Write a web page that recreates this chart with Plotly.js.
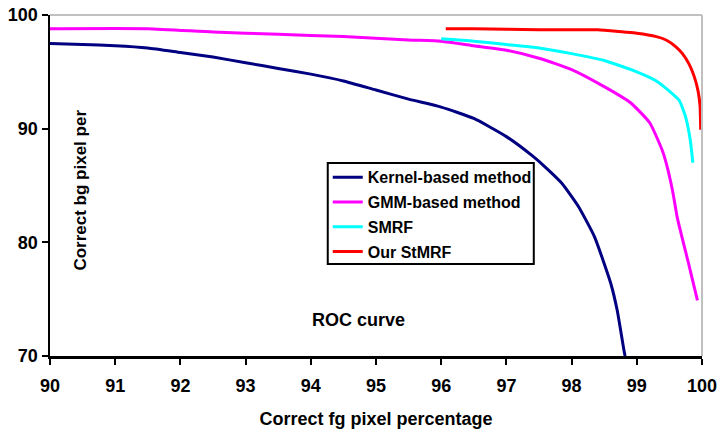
<!DOCTYPE html>
<html>
<head>
<meta charset="utf-8">
<script src="https://cdn.plot.ly/plotly-3.0.1.min.js"></script>
<style>html,body{margin:0;padding:0;background:#fff;}#chart{width:718px;height:435px;}</style>
</head>
<body>
<div id="chart"></div>
<script>
const seriesNames = ["Kernel-based method", "GMM-based method", "SMRF", "Our StMRF"];
const seriesColors = ["#000080", "#ff00ff", "#00ffff", "#ff0000"];

const kernelX = [90.0, 90.5, 91.0, 91.5, 92.0, 92.5, 93.0, 93.5, 94.0, 94.5, 95.0, 95.5, 96.0, 96.5, 97.0, 97.4, 97.6, 97.85, 98.1, 98.35, 98.6, 98.7, 98.8, 98.82];
const kernelY = [97.5, 97.4, 97.3, 97.1, 96.7, 96.3, 95.8, 95.3, 94.8, 94.2, 93.4, 92.6, 91.9, 90.9, 89.3, 87.6, 86.6, 85.2, 83.2, 80.5, 76.4, 74.0, 70.6, 70.0];

const gmmX = [90.0, 91.5, 92.5, 93.5, 94.5, 95.5, 96.0, 96.5, 97.0, 97.5, 98.0, 98.5, 98.9, 99.2, 99.39, 99.45, 99.55, 99.62, 99.8, 99.93];
const gmmY = [98.8, 98.8, 98.5, 98.3, 98.1, 97.8, 97.7, 97.3, 96.9, 96.2, 95.2, 93.7, 92.3, 90.5, 88.1, 87.0, 84.5, 82.2, 78.0, 74.9];

const smrfX = [96.0, 96.5, 97.0, 97.5, 98.0, 98.5, 99.0, 99.3, 99.5, 99.65, 99.75, 99.82, 99.86];
const smrfY = [97.9, 97.7, 97.4, 97.1, 96.6, 96.0, 95.0, 94.2, 93.3, 92.5, 91.0, 89.0, 87.0];

const stmrfX = [96.07, 96.5, 97.0, 97.5, 98.0, 98.4, 98.8, 99.0, 99.3, 99.45, 99.6, 99.7, 99.8, 99.88, 99.94, 99.97, 99.98];
const stmrfY = [98.8, 98.8, 98.75, 98.7, 98.7, 98.7, 98.5, 98.4, 98.1, 97.8, 97.2, 96.6, 95.7, 94.6, 93.3, 92.0, 89.9];

const xTicks = [90, 91, 92, 93, 94, 95, 96, 97, 98, 99, 100];
const yTicks = [70, 80, 90, 100];

const xs = [kernelX, gmmX, smrfX, stmrfX];
const ys = [kernelY, gmmY, smrfY, stmrfY];

const FONT = "Liberation Sans, Arial, sans-serif";

const traces = seriesNames.map((n, i) => ({
  x: xs[i], y: ys[i], name: n, type: "scatter", mode: "lines",
  legendgroup: "g" + i,
  line: {color: seriesColors[i], width: 3, shape: "spline", smoothing: 0.5}
}));

// plot area: 652 x 341 px starting at (50, 15)
const layout = {
  width: 718, height: 435,
  margin: {l: 50, r: 16, t: 15, b: 79},
  paper_bgcolor: "#fff", plot_bgcolor: "#fff",
  font: {family: FONT, color: "#000"},
  showlegend: true,
  legend: {
    x: 0.426, y: 0.574, xanchor: "left", yanchor: "top",
    bgcolor: "rgba(0,0,0,0)", borderwidth: 0,
    font: {family: FONT, size: 16, color: "#000", weight: "bold"},
    tracegroupgap: 1, itemwidth: 30
  },
  xaxis: {
    range: [90, 100], tickvals: xTicks, ticktext: xTicks.map(String),
    showgrid: false, zeroline: false, showline: true, linecolor: "#000", linewidth: 2.5,
    ticks: "outside", ticklen: 6, tickwidth: 2, tickcolor: "#000",
    ticklabelstandoff: 6,
    tickfont: {family: FONT, size: 18, weight: "bold"},
    title: {text: "Correct fg pixel percentage", font: {family: FONT, size: 18, weight: "bold"}, standoff: 18}
  },
  yaxis: {
    range: [70, 100], tickvals: yTicks, ticktext: yTicks.map(String),
    showgrid: false, zeroline: false, showline: true, linecolor: "#000", linewidth: 2.5,
    ticks: "outside", ticklen: 6, tickwidth: 2, tickcolor: "#000",
    tickfont: {family: FONT, size: 18, weight: "bold"}
  },
  shapes: [
    {type: "line", xref: "paper", yref: "paper", x0: 0, x1: 1, y0: 1, y1: 1, line: {color: "#c0c0c0", width: 2}},
    {type: "line", xref: "paper", yref: "paper", x0: 1, x1: 1, y0: 0, y1: 1, line: {color: "#c0c0c0", width: 2}},
    {type: "rect", xref: "paper", yref: "paper", x0: 0.426, x1: 0.742, y0: 0.270, y1: 0.566,
     fillcolor: "#fff", line: {color: "#000", width: 2}, layer: "above"}
  ],
  annotations: [
    {text: "Correct bg pixel per", xref: "paper", yref: "paper", x: 0.047, y: 0.487, textangle: -90,
     showarrow: false, font: {family: FONT, size: 17, weight: "bold"}, xanchor: "center", yanchor: "middle"},
    {text: "ROC curve", xref: "paper", yref: "paper", x: 0.473, y: 0.106,
     showarrow: false, font: {family: FONT, size: 18, weight: "bold"}, xanchor: "center", yanchor: "middle"}
  ]
};

Plotly.newPlot("chart", traces, layout, {displayModeBar: false, staticPlot: true});
</script>
</body>
</html>
